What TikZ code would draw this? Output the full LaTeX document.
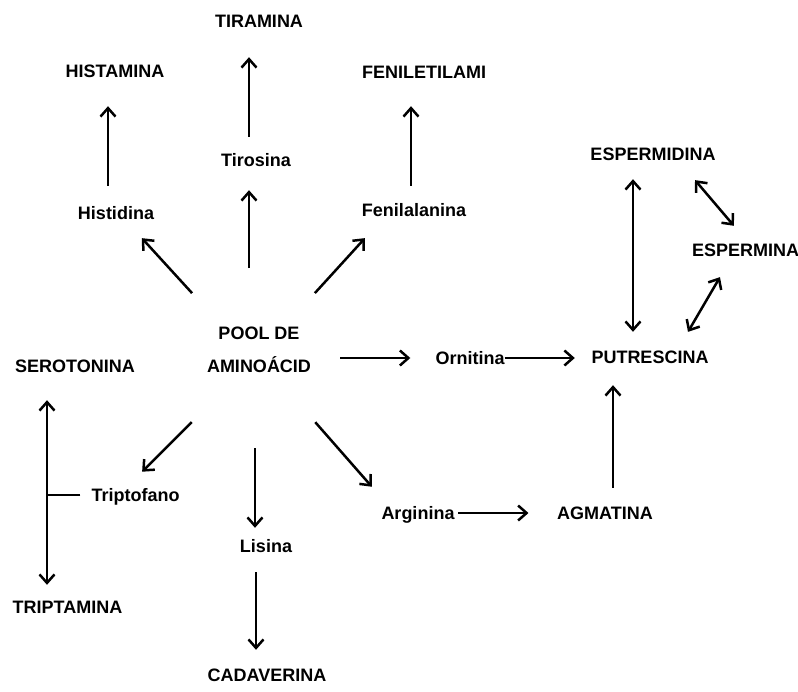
\documentclass[tikz,border=0pt]{standalone}
\usepackage{fontspec}
\setmainfont{Liberation Sans}
\usetikzlibrary{arrows.meta,calc}

\begin{document}
\begin{tikzpicture}[x = 1pt, y = -1pt,
        lbl/.style = {font = \bfseries\fontsize{18}{22}\selectfont, inner sep = 0pt, text height = 13pt, text depth = 0pt},
        arr/.style = {draw, line width = 2.5pt, -{Straight Barb[length = 8.5pt, width = 15pt]}},
        arrboth/.style = {draw, line width = 2.5pt, {Straight Barb[length = 8.5pt, width = 15pt]}-{Straight Barb[length = 8.5pt, width = 15pt]}},
        plain/.style = {draw, line width = 2.5pt}]
                \useasboundingbox (0,0) rectangle (798,691);
                \node[lbl] (tiramina) at (259,21) {TIRAMINA};
                \node[lbl] (histamina) at (115,71) {HISTAMINA};
                \node[lbl] (feniletilami) at (424,72) {FENILETILAMI};
                \node[lbl] (tirosina) at (256,160) {Tirosina};
                \node[lbl] (histidina) at (116,213) {Histidina};
                \node[lbl] (fenilalanina) at (414,210) {Fenilalanina};
                \node[lbl] (espermidina) at (653,154) {ESPERMIDINA};
                \node[lbl] (espermina) at (745.5,250) {ESPERMINA};
                \node[font = \bfseries\fontsize{18}{33}\selectfont, align = center, inner sep = 0pt] (pool) at (259,350) {POOL DE\\AMINOÁCID};
                \node[lbl] (serotonina) at (75,366) {SEROTONINA};
                \node[lbl] (ornitina) at (470,358) {Ornitina};
                \node[lbl] (putrescina) at (650,357) {PUTRESCINA};
                \node[lbl] (triptofano) at (135.5,495) {Triptofano};
                \node[lbl] (lisina) at (266,546) {Lisina};
                \node[lbl] (arginina) at (418,513) {Arginina};
                \node[lbl] (agmatina) at (605,513) {AGMATINA};
                \node[lbl] (triptamina) at (67.5,607) {TRIPTAMINA};
                \node[lbl] (cadaverina) at (267,675) {CADAVERINA};
                \coordinate (tjoin) at (47,495);

                \path[arr, shorten <= 20.5pt, shorten >= 28.5pt] ([xshift = -8pt]histidina.north) -- ([xshift = -8pt]histidina.north |- histamina.south);
                \path[arr, shorten <= 16.5pt, shorten >= 29.5pt] ([xshift = -7pt]tirosina.north) -- ([xshift = -7pt]tirosina.north |- tiramina.south);
                \path[arr, shorten <= 17.5pt, shorten >= 27.5pt] ([xshift = -3pt]fenilalanina.north) -- ([xshift = -3pt]fenilalanina.north |- feniletilami.south);

                \path[arr, shorten <= 82pt, shorten >= 23.5pt] ([xshift = -10pt]pool.center) -- ([xshift = -7pt]tirosina.south);
                \path[arr, shorten <= 77pt, shorten >= 25pt] ([xshift = -15pt]pool.center) -- ([xshift = 9pt]histidina.south);
                \path[arr, shorten <= 77pt, shorten >= 29pt] ([xshift = 4pt]pool.center) -- ([xshift = -29.5pt]fenilalanina.south);
                \path[arr, shorten <= 81pt, shorten >= 25pt] ([yshift = -8pt]pool.center) -- (ornitina.west);
                \path[arr, shorten <= 102pt, shorten >= 23.5pt] ([xshift = 5pt]pool.center) -- ([xshift = -10pt]triptofano.north);
                \path[arr, shorten <= 98pt, shorten >= 11.5pt] ([xshift = -4pt]pool.center) -- ([xshift = -11pt]lisina.north);
                \path[arr, shorten <= 96pt, shorten >= 26pt] ([xshift = -7pt]pool.center) -- ([xshift = -29pt]arginina.north);

                \path[arr, shorten >= 16.5pt] (ornitina.east) -- (ornitina.east -| putrescina.west);
                \path[arr, shorten <= 3.5pt, shorten >= 28.5pt] (arginina.east) -- (agmatina.west);
                \path[arr, shorten <= 18.5pt, shorten >= 21.5pt] ([xshift = 8pt]agmatina.north) -- ([xshift = 8pt]agmatina.north |- putrescina.south);
                \path[arr, shorten <= 19.5pt, shorten >= 18.5pt] ([xshift = -10pt]lisina.south) -- ([xshift = -10pt]lisina.south |- cadaverina.north);

                \path[arrboth, shorten <= 18.5pt, shorten >= 18.5pt] ([xshift = -20pt]espermidina.south) -- ([xshift = -20pt]espermidina.south |- putrescina.north);
                \path[arrboth, shorten <= 25.5pt, shorten >= 23pt] ([xshift = 25.5pt]espermidina.south) -- ([xshift = 3.3pt]espermina.north);
                \path[arrboth, shorten <= 23.7pt, shorten >= 21.4pt] ([xshift = -13.6pt]espermina.south) -- ([xshift = 27.2pt]putrescina.north);

                \path[arrboth, shorten <= 27.5pt, shorten >= 15.5pt] ([xshift = -28pt]serotonina.south) -- ([xshift = -28pt]serotonina.south |- triptamina.north);
                \path[plain, shorten <= 11pt] (triptofano.west) -- (tjoin);
            \end{tikzpicture}
\end{document}
